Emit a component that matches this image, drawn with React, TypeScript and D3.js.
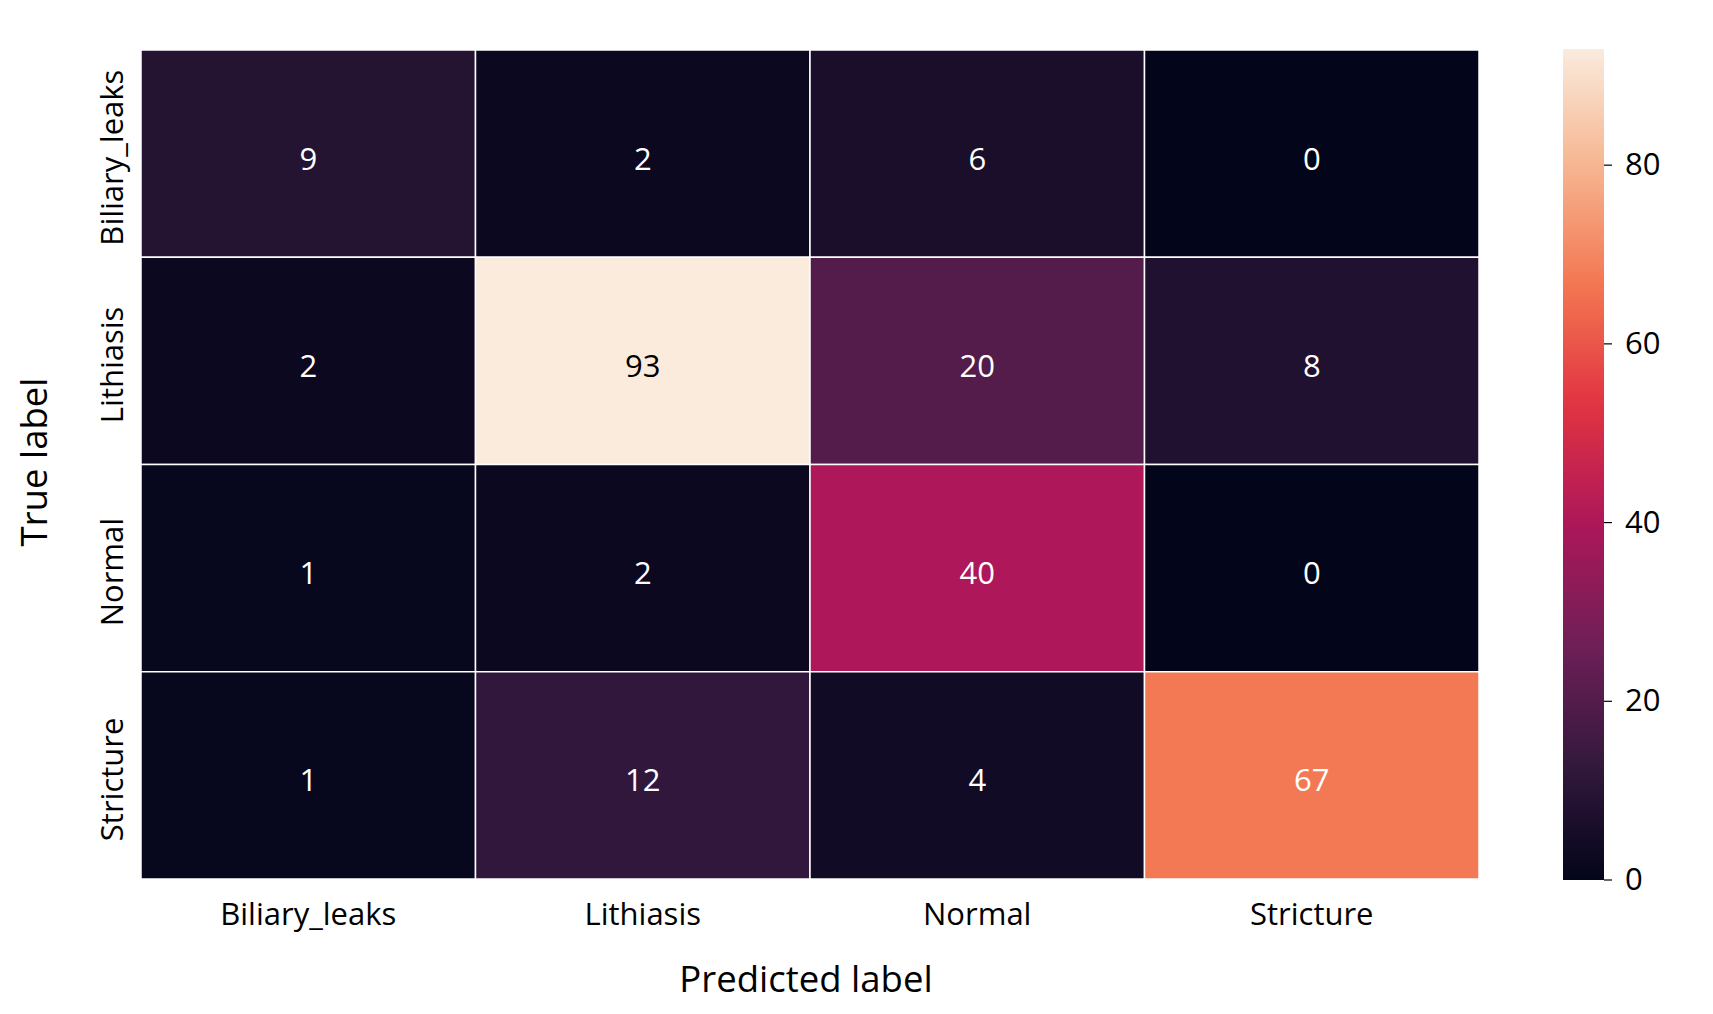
import * as React from 'react';
import * as d3 from 'd3';

const predictedLabels = ['Biliary_leaks', 'Lithiasis', 'Normal', 'Stricture'];
const trueLabels = ['Biliary_leaks', 'Lithiasis', 'Normal', 'Stricture'];
// rows = true label, columns = predicted label
const counts = [
    [9, 2, 6, 0],
    [2, 93, 20, 8],
    [1, 2, 40, 0],
    [1, 12, 4, 67],
];
const colorbarTicks = [0, 20, 40, 60, 80];

// seaborn "rocket" stops
const rocketStops = [0, 1 / 7, 2 / 7, 3 / 7, 4 / 7, 5 / 7, 6 / 7, 1];
const rocketColors = ['#03051a', '#35193e', '#701f57', '#ad1759', '#e13342', '#f37651', '#f6b48f', '#faebdd'];

const W = 1713;
const H = 1014;
const font = '"Open Sans", "DejaVu Sans", sans-serif';

export default function App() {
    const left = 141, right = 1479, top = 50, bottom = 879;
    const vmin = 0;
    const vmax = d3.max(counts.flat()) as number;

    const x = d3.scaleBand().domain(predictedLabels).range([left, right]);
    const y = d3.scaleBand().domain(trueLabels).range([top, bottom]);

    const rocket = d3.scaleLinear<string>()
        .domain(rocketStops)
        .range(rocketColors)
        .interpolate(d3.interpolateRgb);
    const color = (v: number) => rocket((v - vmin) / (vmax - vmin));

    // same rule seaborn uses to pick annotation colour
    const textColor = (v: number) => {
        const c = d3.rgb(color(v));
        const lin = (u: number) => {
            const s = u / 255;
            return s <= 0.03928 ? s / 12.92 : ((s + 0.055) / 1.055) ** 2.4;
        };
        const lum = 0.2126 * lin(c.r) + 0.7152 * lin(c.g) + 0.0722 * lin(c.b);
        return lum > 0.408 ? '#000' : '#fff';
    };

    const cbX = 1563, cbW = 41;
    const cbY = d3.scaleLinear().domain([vmin, vmax]).range([880, 49]);
    const gradStops = d3.range(0, 1.0001, 0.02);

    return (
        <svg width={W} height={H} style={{ position: 'absolute', left: 0, top: 0, background: '#fff' }}
            fontFamily={font}>
            <defs>
                <linearGradient id="cb" x1="0" y1="1" x2="0" y2="0">
                    {gradStops.map(t => (
                        <stop key={t} offset={t} stopColor={rocket(t)} />
                    ))}
                </linearGradient>
            </defs>
            <rect x={0} y={0} width={W} height={H} fill="#fff" />

            {counts.map((row, i) => row.map((v, j) => (
                <g key={`${i}-${j}`}>
                    <rect x={x(predictedLabels[j])} y={y(trueLabels[i])}
                        width={x.bandwidth()} height={y.bandwidth()}
                        fill={color(v)} stroke="#fff" strokeWidth={1.5} />
                    <text x={(x(predictedLabels[j]) as number) + x.bandwidth() / 2}
                        y={(y(trueLabels[i]) as number) + y.bandwidth() / 2 + 4}
                        textAnchor="middle" dominantBaseline="central"
                        fontSize={31} fill={textColor(v)}>{v}</text>
                </g>
            )))}

            {predictedLabels.map(l => (
                <text key={l} x={(x(l) as number) + x.bandwidth() / 2} y={925}
                    textAnchor="middle" fontSize={31} fill="#000">{l}</text>
            ))}
            {trueLabels.map(l => {
                const cy = (y(l) as number) + y.bandwidth() / 2 + 4;
                return (
                    <text key={l} transform={`translate(123, ${cy}) rotate(-90)`}
                        textAnchor="middle" fontSize={31} fill="#000">{l}</text>
                );
            })}

            <text x={806} y={992} textAnchor="middle" fontSize={36.5} fill="#000">Predicted label</text>
            <text transform={`translate(47, 462) rotate(-90)`}
                textAnchor="middle" fontSize={36.5} fill="#000">True label</text>

            <rect x={cbX} y={cbY(vmax)} width={cbW} height={cbY(vmin) - cbY(vmax)} fill="url(#cb)" />
            {colorbarTicks.map(t => (
                <g key={t}>
                    <line x1={cbX + cbW} x2={cbX + cbW + 8} y1={cbY(t)} y2={cbY(t)} stroke="#000" strokeWidth={1.2} />
                    <text x={1625} y={cbY(t) - 2} dominantBaseline="central" fontSize={31} fill="#000">{t}</text>
                </g>
            ))}
        </svg>
    );
}
